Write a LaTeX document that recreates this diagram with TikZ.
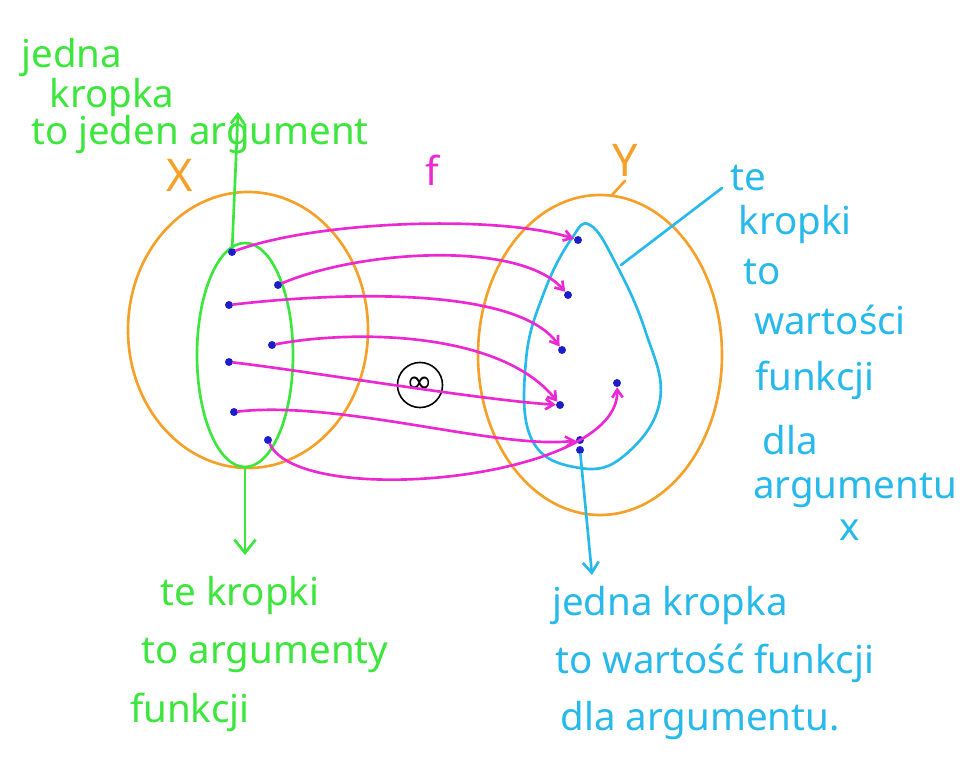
\documentclass[tikz,border=0pt]{standalone}
\usepackage{fontspec}
\setmainfont{Noto Sans}
\newfontfamily\symf{DejaVu Sans}
\usetikzlibrary{arrows.meta}
\definecolor{org}{RGB}{245,160,40}
\definecolor{grn}{RGB}{60,230,60}
\definecolor{mag}{RGB}{235,40,210}
\definecolor{blu}{RGB}{40,185,235}
\definecolor{dotc}{RGB}{30,30,200}
\tikzset{
 pen/.style={line width=2pt,line cap=round},
 arr/.style={pen,mag,-{Straight Barb[length=6pt,width=8pt]}},
 gtxt/.style={text=grn,font=\fontsize{29}{32}\selectfont,anchor=center},
 btxt/.style={text=blu,font=\fontsize{29}{32}\selectfont,anchor=center},
 pt/.style={circle,fill=dotc,inner sep=0pt,minimum size=6pt}
}
\begin{document}
\begin{tikzpicture}[x=0.0265cm,y=-0.0265cm]
\useasboundingbox[fill=white] (0,0) rectangle (980,784);
% sets
\draw[pen,org] (248,330) ellipse [x radius=120,y radius=138];
\draw[pen,org] (600,355) ellipse [x radius=122,y radius=160];
\node[text=org,font=\fontsize{34}{34}\selectfont] (X) at (180,175) {X};
\node[text=org,font=\fontsize{34}{34}\selectfont] (Y) at (625,160) {Y};
\coordinate (ytop) at (612,195);
\draw[pen,org] (Y.south) -- (ytop);
\node[text=mag,font=\fontsize{30}{30}\selectfont] (f) at (432,170) {f};
\draw[pen,grn] (245,355) ellipse [x radius=48,y radius=112];
\draw[pen,blu] plot[smooth cycle,tension=0.7] coordinates
 {(590,225) (615,262) (645,330) (660,400) (625,455) (580,468) (532,440) (526,360) (545,290) (572,238)};
% center symbol
\node[draw,circle,line width=1.2pt,minimum size=34pt,inner sep=0pt,font=\symf\fontsize{24}{24}\selectfont] (inf) at (420,385) {∞};
% dots
\foreach \n/\p in {a1/{(232,252)},a2/{(278,285)},a3/{(229,305)},a4/{(272,345)},a5/{(229,362)},a6/{(234,412)},a7/{(268,440)},
 b1/{(578,240)},b2/{(568,295)},b3/{(562,350)},b4/{(560,405)},b5/{(580,440)},b6/{(580,450)},b7/{(617,383)}}
 \node[pt] (\n) at \p {};
% arrows
\draw[arr] (a1) .. controls (320,220) and (500,215) .. (b1);
\draw[arr] (a2) .. controls (360,250) and (520,240) .. (b2);
\draw[arr] (a3) .. controls (360,290) and (520,290) .. (b3);
\draw[arr] (a4) .. controls (350,330) and (500,330) .. (b4);
\draw[arr] (a5) .. controls (300,370) and (480,400) .. (b4);
\draw[arr] (a6) .. controls (340,400) and (500,450) .. (b5);
\draw[arr] (a7) .. controls (300,510) and (620,480) .. (b7);
% green labels
\node[gtxt] (g1) at (72,58) {jedna};
\node[gtxt] (g2) at (112,98) {kropka};
\node[gtxt] (g3) at (200,135) {to jeden argument};
\draw[pen,grn,-{Straight Barb[length=7pt,width=10pt]}] (a1) -- (238,112);
\coordinate (gb) at (245,555);
\draw[pen,grn,-{Straight Barb[length=10pt,width=16pt]}] (245,467) -- (gb);
\node[gtxt] (g4) at (240,595) {te kropki};
\node[gtxt] (g5) at (265,655) {to argumenty};
\node[gtxt] (g6) at (190,712) {funkcji};
% blue labels
\coordinate (bl) at (722,188);
\draw[pen,blu] (621,265) -- (bl);
\node[btxt] (c1) at (748,178) {te};
\node[btxt] (c2) at (795,225) {kropki};
\node[btxt] (c3) at (762,272) {to};
\node[btxt] (c4) at (830,320) {wartości};
\node[btxt] (c5) at (815,380) {funkcji};
\node[btxt] (c6) at (790,440) {dla};
\node[btxt] (c7) at (855,490) {argumentu};
\node[btxt] (c8) at (850,530) {x};
\coordinate (bb) at (592,575);
\draw[pen,blu,-{Straight Barb[length=8pt,width=12pt]}] (b6) -- (bb);
\node[btxt] (c9) at (670,605) {jedna kropka};
\node[btxt] (c10) at (715,663) {to wartość funkcji};
\node[btxt] (c11) at (700,720) {dla argumentu.};
\end{tikzpicture}
\end{document}
